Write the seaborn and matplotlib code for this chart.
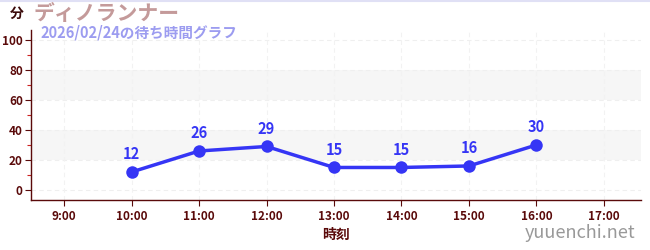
import matplotlib
matplotlib.use("Agg")
import matplotlib.pyplot as plt
import seaborn as sns
import pandas as pd
from matplotlib.ticker import MultipleLocator

hours = [10, 11, 12, 13, 14, 15, 16]
waits = [12, 26, 29, 15, 15, 16, 30]
tick_hours = [9, 10, 11, 12, 13, 14, 15, 16, 17]
tick_labels = ["9:00", "10:00", "11:00", "12:00", "13:00", "14:00", "15:00", "16:00", "17:00"]
title = "ディノランナー"
subtitle = "2026/02/24の待ち時間グラフ"
y_unit = "分"
x_label = "時刻"
watermark = "yuuenchi.net"

sns.set_theme(style="white")
plt.rcParams['font.family'] = ['Noto Sans CJK JP', 'DejaVu Sans']

df = pd.DataFrame({"hour": hours, "wait": waits})
fig = plt.figure(figsize=(6.5, 2.5), dpi=100)
ax = fig.add_axes([0.048, 0.2, 0.938, 0.68])

axis_col = "#5a0a0a"
for lo, hi in [(20, 40), (60, 80)]:
    ax.axhspan(lo, hi, color="#f6f6f6", zorder=0, lw=0)
for y in [0, 20, 40, 60, 80, 100]:
    ax.axhline(y, color="#efefef", lw=0.8, ls=(0, (4, 3)), zorder=0.5)
for h in tick_hours:
    ax.axvline(h, color="#f2f2f2", lw=0.8, ls=(0, (4, 3)), zorder=0.5)

sns.lineplot(data=df, x="hour", y="wait", ax=ax, color="#3535f5", lw=2.5,
             marker="o", markersize=9, markeredgewidth=0, zorder=3)
for h, w in zip(hours, waits):
    ax.annotate(str(w), (h, w), xytext=(0, 7), textcoords="offset points",
                ha="center", va="bottom", color="#3535f5", fontsize=10.5,
                fontweight="bold")

ax.set_xlim(8.51, 17.55)
ax.set_ylim(-6.7, 106.7)
ax.set_xticks(tick_hours)
ax.set_xticklabels(tick_labels)
ax.set_yticks([0, 20, 40, 60, 80, 100])
ax.yaxis.set_minor_locator(MultipleLocator(10))
ax.tick_params(axis="both", which="major", colors=axis_col, labelsize=8.5,
               length=4, width=0.8, direction="out", left=True, bottom=True)
ax.tick_params(axis="y", which="minor", colors="#cc2222", length=3, width=0.8, left=True)
ax.tick_params(axis="y", pad=2)
for lab in ax.get_xticklabels() + ax.get_yticklabels():
    lab.set_fontweight("bold")
    lab.set_color(axis_col)
ax.set_xlabel(x_label, color=axis_col, fontsize=10, fontweight="bold", labelpad=3)
ax.set_ylabel("")
for s in ["top", "right"]:
    ax.spines[s].set_visible(False)
for s in ["left", "bottom"]:
    ax.spines[s].set_color(axis_col)
    ax.spines[s].set_linewidth(1.0)

fig.text(0.026, 0.944, y_unit, color="#3a0a0a", fontsize=10, fontweight="bold",
         ha="center", va="center")
fig.text(0.052, 0.946, title, color="#c49a9a", fontsize=15, fontweight="bold",
         ha="left", va="center")
fig.text(0.062, 0.872, subtitle, color="#9c9cf0", fontsize=10.5, fontweight="bold",
         ha="left", va="center")
fig.text(0.977, 0.068, watermark, color="#999999", fontsize=13, ha="right",
         va="center")
fig.add_artist(plt.Line2D([0, 1], [0.998, 0.998], color="#e0e0f5", lw=1.5,
                          transform=fig.transFigure))

fig.savefig("out.png", dpi=100)
